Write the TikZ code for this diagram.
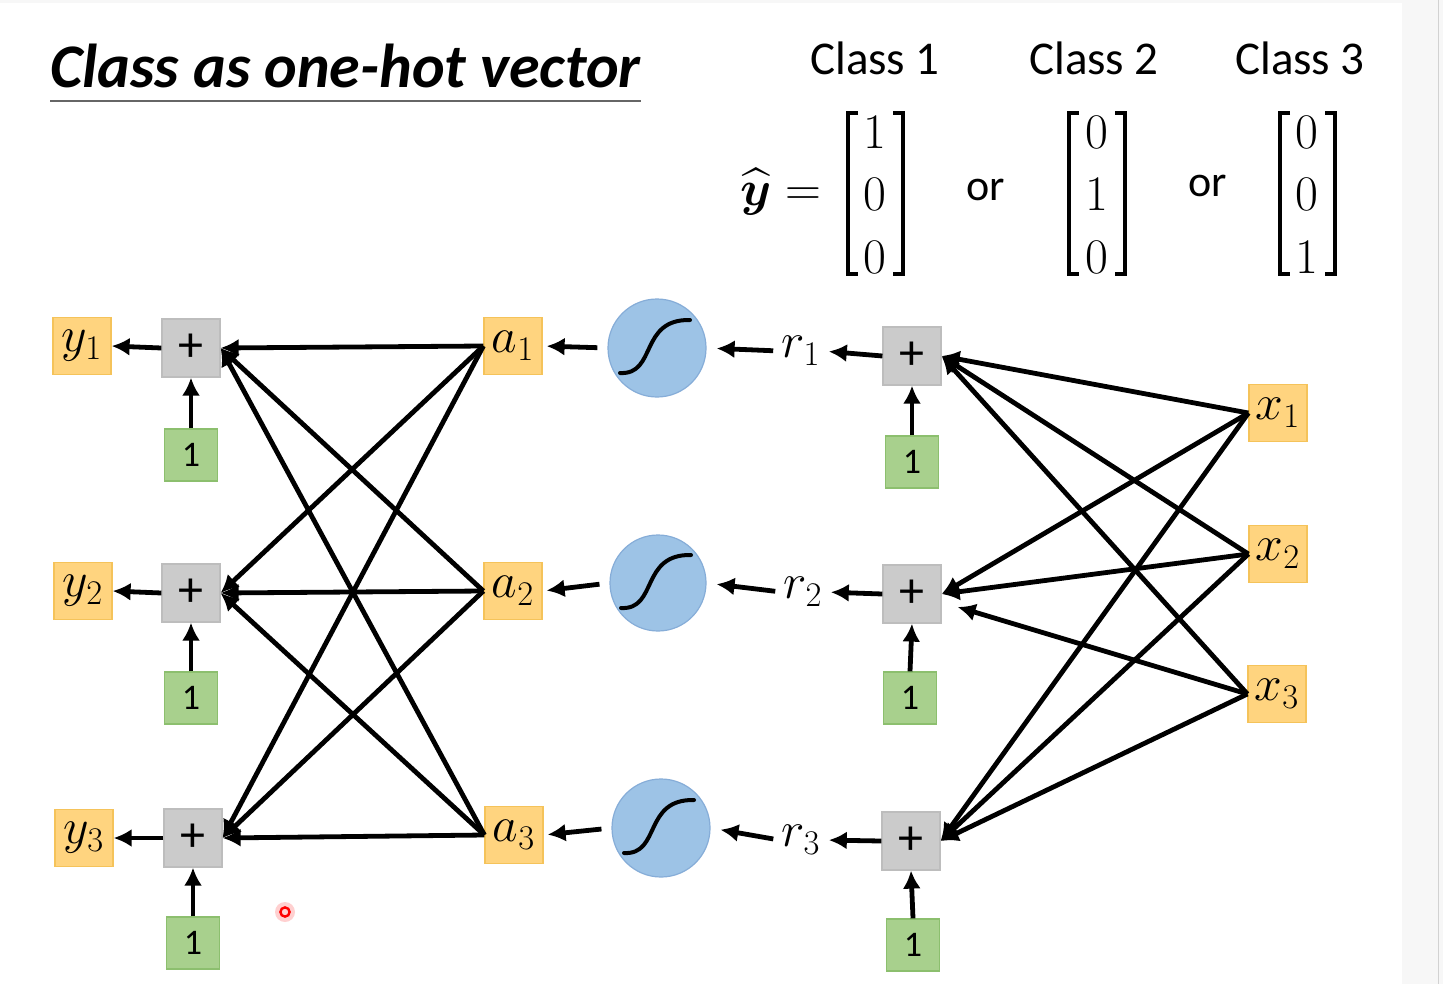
\documentclass[tikz,border=0pt]{standalone}
\usepackage{amsmath}
\usepackage{fontspec}
\setmainfont{Carlito}
\usetikzlibrary{arrows.meta,calc}
\definecolor{yel}{HTML}{FFD47F}
\definecolor{yelD}{HTML}{F5C35A}
\definecolor{gry}{HTML}{CBCBCB}
\definecolor{gryD}{HTML}{BDBDBD}
\definecolor{grn}{HTML}{A8D08D}
\definecolor{grnD}{HTML}{8CBF6E}
\definecolor{blu}{HTML}{9DC3E6}
\definecolor{bluD}{HTML}{86ADD8}
\definecolor{stripc}{HTML}{F7F7F7}
\begin{document}
\begin{tikzpicture}[x=0.5pt,y=-0.5pt,
  arr/.style={line width=2.4pt,-{Latex[length=9pt,width=9pt]}},
  ybox/.style={draw=yelD,fill=yel,line width=0.6pt,minimum width=29pt,minimum height=28.5pt,inner sep=0pt,font=\fontsize{24}{24}\selectfont},
  pbox/.style={draw=gryD,fill=gry,line width=0.6pt,minimum width=29pt,minimum height=29pt,inner sep=0pt,font=\fontsize{25}{25}\selectfont},
  gbox/.style={draw=grnD,fill=grn,line width=0.6pt,minimum width=26.5pt,minimum height=26pt,inner sep=0pt,font=\fontsize{18}{18}\selectfont},
  sig/.style={circle,draw=bluD,fill=blu,line width=0.6pt,minimum size=49pt,inner sep=0pt},
  rlab/.style={inner sep=1pt,font=\fontsize{24}{24}\selectfont},
  dig/.style={inner sep=0pt,font=\fontsize{30}{30}\selectfont},
  brk/.style={line width=2pt},
  sigc/.style={line width=2pt,line cap=round}
]
\useasboundingbox (0,0) rectangle (1443,984);
\fill[white] (0,0) rectangle (1443,984);
\fill[stripc] (0,0) rectangle (1402,3);
\fill[stripc] (1402,0) rectangle (1443,984);
\draw[gray!35,line width=0.5pt] (1438,0) -- (1438,984);

% title
\node[anchor=base west,inner sep=0pt,font=\fontsize{31}{31}\selectfont\bfseries\itshape] (title) at (50,88) {Class as one-hot vector};
\draw[gray!80!black,line width=1pt] (50,101) -- (641,101);

% class labels
\node[anchor=base,inner sep=0pt,font=\fontsize{23.5}{23.5}\selectfont] (c1) at (875,75) {Class 1};
\node[anchor=base,inner sep=0pt,font=\fontsize{23.5}{23.5}\selectfont] (c2) at (1094,75) {Class 2};
\node[anchor=base,inner sep=0pt,font=\fontsize{23.5}{23.5}\selectfont] (c3) at (1300,75) {Class 3};

% y hat =
\node[inner sep=0pt,font=\fontsize{25}{25}\selectfont] (yhat) at (781,192) {$\widehat{\boldsymbol{y}} =$};
\node[anchor=base,inner sep=0pt,font=\fontsize{22}{22}\selectfont] (or1) at (986,200) {or};
\node[anchor=base,inner sep=0pt,font=\fontsize{22}{22}\selectfont] (or2) at (1208,197) {or};

% matrices
\node[dig] (m11) at (875,132) {$1$};
\node[dig] (m12) at (875,194) {$0$};
\node[dig] (m13) at (875,257) {$0$};
\node[dig] (m21) at (1097,132) {$0$};
\node[dig] (m22) at (1097,194) {$1$};
\node[dig] (m23) at (1097,257) {$0$};
\node[dig] (m31) at (1307,132) {$0$};
\node[dig] (m32) at (1307,194) {$0$};
\node[dig] (m33) at (1307,257) {$1$};
\foreach \L/\R in {848/903,1069/1125,1280/1335}{
  \draw[brk] (\L+10,113) -- (\L,113) -- (\L,274) -- (\L+10,274);
  \draw[brk] (\R-10,113) -- (\R,113) -- (\R,274) -- (\R-10,274);
}

% left outputs
\node[ybox] (y1) at (82,346) {$y_1$};
\node[ybox] (y2) at (83,591) {$y_2$};
\node[ybox] (y3) at (84,838) {$y_3$};
\node[pbox] (p1) at (191,348) {+};
\node[pbox] (p2) at (191,593) {+};
\node[pbox] (p3) at (193,838) {+};
\node[gbox] (g1) at (191,455) {1};
\node[gbox] (g2) at (191,698) {1};
\node[gbox] (g3) at (193,943) {1};
\node[ybox] (a1) at (513,346) {$a_1$};
\node[ybox] (a2) at (513,591) {$a_2$};
\node[ybox] (a3) at (514,835) {$a_3$};
\node[sig] (s1) at (657,348) {};
\node[sig,minimum size=48pt] (s2) at (658,583) {};
\node[sig] (s3) at (661,828) {};
\node[rlab] (r1) at (801,351) {$r_1$};
\node[rlab] (r2) at (803,592) {$r_2$};
\node[rlab] (r3) at (801,840) {$r_3$};
\node[pbox] (q1) at (912,356) {+};
\node[pbox] (q2) at (912,594) {+};
\node[pbox] (q3) at (911,841) {+};
\node[gbox] (h1) at (912,462) {1};
\node[gbox] (h2) at (910,698) {1};
\node[gbox] (h3) at (913,945) {1};
\node[ybox] (x1) at (1278,413) {$x_1$};
\node[ybox] (x2) at (1278,554) {$x_2$};
\node[ybox] (x3) at (1277,694) {$x_3$};
\coordinate (q2x) at ($(q2.east)+(16,13)$);

% sigmoid curves
\foreach \s in {s1,s2,s3}{
  \draw[sigc] ($(\s)+(-37,25)$) .. controls ($(\s)+(0,27)$) and ($(\s)+(-18,-29)$) .. ($(\s)+(33,-28)$);
}

% arrows
\foreach \i in {1,2,3}{
  \draw[arr] (p\i.west) -- (y\i.east);
  \draw[arr] (g\i.north) -- (p\i.south);
  \draw[arr] (h\i.north) -- (q\i.south);
  \draw[arr,shorten <=5pt,shorten >=2pt] (s\i.west) -- (a\i.east);
  \draw[arr,shorten <=3pt,shorten >=5pt] (r\i.west) -- (s\i.east);
  \draw[arr,shorten >=3pt] (q\i.west) -- (r\i.east);
}
\foreach \j in {1,2,3}{
  \foreach \i in {1,2,3}{
    \draw[arr] (a\j.west) -- (p\i.east);
  }
}
\draw[arr] (x1.west) -- (q1.east);
\draw[arr] (x1.west) -- (q2.east);
\draw[arr] (x1.west) -- (q3.east);
\draw[arr] (x2.west) -- (q1.east);
\draw[arr] (x2.west) -- (q2.east);
\draw[arr] (x2.west) -- (q3.east);
\draw[arr] (x3.west) -- (q1.east);
\draw[arr] (x3.west) -- (q2x);
\draw[arr] (x3.west) -- (q3.east);

% pointer dot
\fill[red!30,opacity=0.6] (285,912) circle (5pt);
\draw[red,line width=1.2pt] (285,912) circle (2.3pt);
\end{tikzpicture}
\end{document}
